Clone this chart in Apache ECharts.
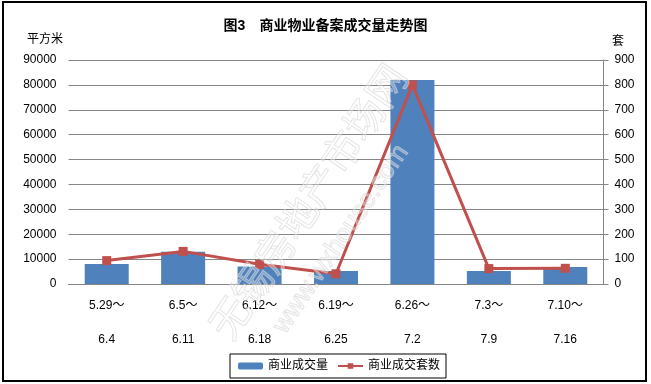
<!DOCTYPE html>
<html>
<head>
<meta charset="utf-8">
<script src="https://cdn.jsdelivr.net/npm/echarts@6/dist/echarts.min.js"></script>
<style>
html,body{margin:0;padding:0;background:#fff;}
#chart{width:651px;height:384px;}
</style>
</head>
<body>
<div id="chart"></div>
<script>
var categories = ['5.29～\n\n6.4', '6.5～\n\n6.11', '6.12～\n\n6.18', '6.19～\n\n6.25', '6.26～\n\n7.2', '7.3～\n\n7.9', '7.10～\n\n7.16'];
var areaValues = [8000, 13000, 7000, 5200, 82000, 5200, 6800];
var unitValues = [94, 131, 79, 41, 800, 62, 63];
var leftTicks = [0, 10000, 20000, 30000, 40000, 50000, 60000, 70000, 80000, 90000];
var rightTicks = [0, 100, 200, 300, 400, 500, 600, 700, 800, 900];

var chart = echarts.init(document.getElementById('chart'));
var font = '"Liberation Sans", Arial, "Noto Sans CJK SC", sans-serif';
chart.setOption({
  backgroundColor: '#fff',
  animation: false,
  textStyle: {fontFamily: font},
  title: {
    text: '图3　商业物业备案成交量走势图',
    left: 'center',
    top: 14,
    textStyle: {fontSize: 14, fontWeight: 'bold', color: '#000', fontFamily: font}
  },
  graphic: [
    {type: 'rect', shape: {x: 3, y: 2, width: 643, height: 379}, style: {fill: 'none', stroke: '#000', lineWidth: 2}, z: 100},
    {type: 'text', left: 27, top: 34, style: {text: '平方米', fontSize: 12, fill: '#000', fontFamily: font}},
    {type: 'text', left: 612, top: 36, style: {text: '套', fontSize: 12, fill: '#000', fontFamily: font}},
    {type: 'text', x: 235, y: 345, rotation: 56 * Math.PI / 180, z: 50,
      style: {text: '无锡房地产市场网', fontSize: 40, fill: 'rgba(255,255,255,0.3)', stroke: 'rgba(205,205,205,0.6)', lineWidth: 1, fontFamily: '"Noto Sans CJK SC", sans-serif', textVerticalAlign: 'bottom'}},
    {type: 'text', x: 290, y: 338, rotation: 56 * Math.PI / 180, z: 50,
      style: {text: 'www.wxhouse.com', fontSize: 26, fill: 'rgba(255,255,255,0.3)', stroke: 'rgba(205,205,205,0.6)', lineWidth: 1, fontFamily: font, textVerticalAlign: 'bottom'}}
  ],
  legend: {
    left: 230,
    top: 354,
    padding: [6, 6, 6, 8],
    itemGap: 9,
    itemWidth: 25,
    itemHeight: 7,
    borderColor: '#000',
    borderWidth: 1,
    textStyle: {fontSize: 12, color: '#000', fontFamily: font},
    data: ['商业成交量', '商业成交套数']
  },
  grid: {left: 68.5, right: 47.5, top: 60, bottom: 100, containLabel: false},
  xAxis: {
    type: 'category',
    data: categories,
    axisLine: {show: true, lineStyle: {color: '#868686', width: 1}},
    axisTick: {show: false},
    axisLabel: {fontSize: 12, color: '#000', lineHeight: 17, margin: 13, interval: 0, fontFamily: font}
  },
  yAxis: [
    {
      type: 'value', min: leftTicks[0], max: leftTicks[leftTicks.length - 1], interval: 10000,
      axisLine: {show: false},
      axisTick: {show: false},
      splitLine: {show: true, lineStyle: {color: '#868686', width: 1}},
      axisLabel: {fontSize: 12, color: '#000', margin: 12, fontFamily: font, formatter: function (v) { return String(v); }}
    },
    {
      type: 'value', min: rightTicks[0], max: rightTicks[rightTicks.length - 1], interval: 100,
      position: 'right',
      axisLine: {show: true, lineStyle: {color: '#868686', width: 1}},
      axisTick: {show: true, length: 5, inside: false, lineStyle: {color: '#868686'}},
      splitLine: {show: false},
      axisLabel: {fontSize: 12, color: '#000', margin: 11, fontFamily: font, formatter: function (v) { return String(v); }}
    }
  ],
  series: [
    {
      name: '商业成交量', type: 'bar', yAxisIndex: 0, data: areaValues,
      barWidth: 44, itemStyle: {color: '#4F81BD'}, z: 2
    },
    {
      name: '商业成交套数', type: 'line', yAxisIndex: 1, data: unitValues,
      symbol: 'rect', symbolSize: 9, showAllSymbol: true,
      lineStyle: {color: '#C0504D', width: 3},
      itemStyle: {color: '#C0504D'}, z: 3
    }
  ]
});
</script>
</body>
</html>
